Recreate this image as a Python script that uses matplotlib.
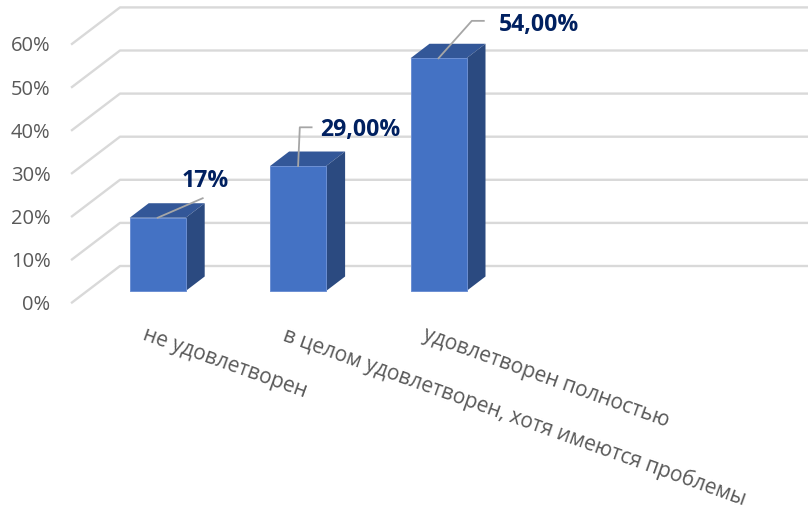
import matplotlib
matplotlib.use('Agg')
import matplotlib.pyplot as plt

categories = ['не удовлетворен', 'в целом удовлетворен, хотя имеются проблемы', 'удовлетворен полностью']
values = [17, 29, 54]
value_labels = ['17%', '29,00%', '54,00%']
y_ticks = [0, 10, 20, 30, 40, 50, 60]
y_tick_labels = ['0%', '10%', '20%', '30%', '40%', '50%', '60%']

W, H = 808, 511
X0, X_STEP = 157.7, 140.4   # pixel centre of first bar, distance between bars
Y0, Y_STEP = 291.0, 4.31    # pixel of the bar base, pixels per percent


def dx(px):
    return px / X_STEP


def dy(px):
    return px / Y_STEP


fig = plt.figure(figsize=(W / 100, H / 100), dpi=100)
ax = fig.add_axes([0, 0, 1, 1])
ax.set_xlim(-X0 / X_STEP, (W - X0) / X_STEP)
ax.set_ylim((Y0 - H) / Y_STEP, Y0 / Y_STEP)
ax.axis('off')
plt.rcParams['font.family'] = 'Open Sans'

# walls of the fake 3d box
x_front = dx(72 - X0)
x_back = dx(120 - X0)
x_end = dx(W - X0)
for tick, lab in zip(y_ticks, y_tick_labels):
    y_front = tick - dy(11.5)
    y_back = tick + dy(25)
    ax.plot([x_front, x_back, x_end], [y_front, y_back, y_back], color='#D9D9D9', lw=1.7, zorder=1)
    ax.text(dx(50.5 - X0), y_front, lab, ha='right', va='center_baseline', fontsize=14.5,
            color='#595959', family='Open Sans')

half = dx(28)
depth_x = dx(19)
depth_y = dy(14.5)
for i, v in enumerate(values):
    left = i - half
    right = i + half
    ax.bar(i, v, width=2 * half, color='#4472C4', edgecolor='#6C8FD3', linewidth=0.7, zorder=3)
    ax.fill([left, right, right + depth_x, left + depth_x], [v, v, v + depth_y, v + depth_y],
            color='#335798', lw=0, zorder=2)
    ax.fill([right, right + depth_x, right + depth_x, right], [0, depth_y, v + depth_y, v],
            color='#2B4A80', lw=0, zorder=2)

# leader lines, pixel offsets from the top of each bar
leaders = [[(0, 0), (45, 19.5)],
           [(0, 0), (1.7, 38.7), (13.5, 38.7)],
           [(0, 0), (33.3, 37.4), (45.3, 37.4)]]
label_offsets = [(47.5, 39.5), (22.5, 39), (60.3, 36.5)]
label_ha = ['center', 'left', 'left']
for i, v in enumerate(values):
    ax.plot([i + dx(p[0]) for p in leaders[i]], [v + dy(p[1]) for p in leaders[i]],
            color='#A6A6A6', lw=1.3, zorder=4)
    ax.text(i + dx(label_offsets[i][0]), v + dy(label_offsets[i][1]), value_labels[i],
            ha=label_ha[i], va='center_baseline', fontsize=16.6, fontweight='bold', color='#002060',
            family='Open Sans', zorder=5)

# category labels, rotated and starting under each bar
for i, cat in enumerate(categories):
    ax.text(i + dx(-14.5), dy(-43.5), cat, rotation=-19.7, rotation_mode='anchor', ha='left', va='center',
            fontsize=15, color='#595959', family='Open Sans')

fig.savefig('out.png', dpi=100)
